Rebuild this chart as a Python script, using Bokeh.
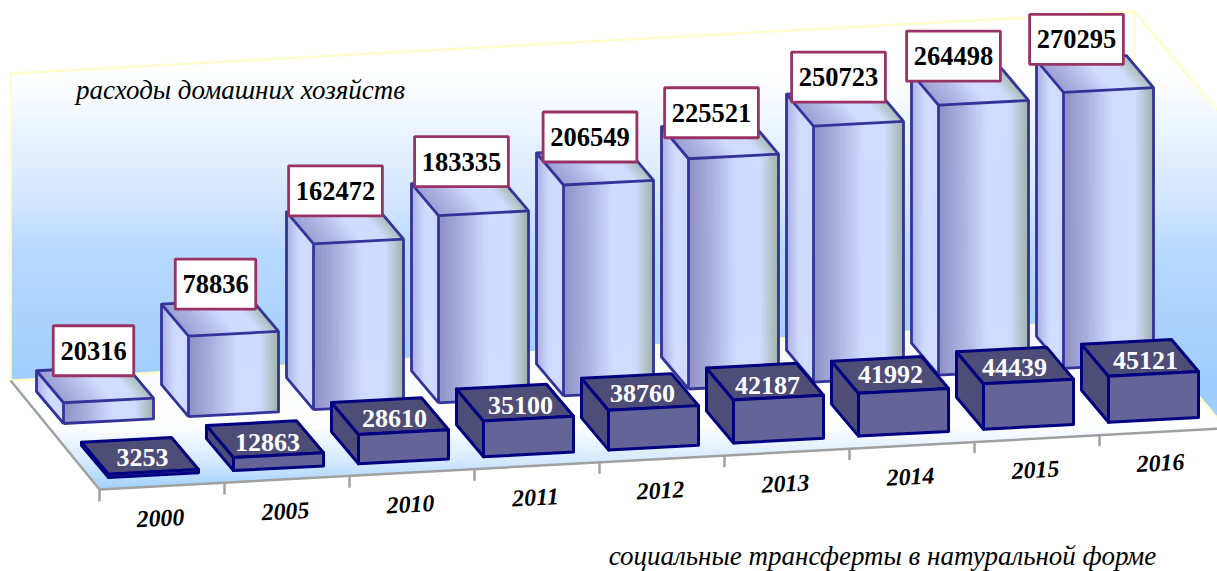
from bokeh.plotting import figure
from bokeh.models import Range1d
from bokeh.core.properties import value
from bokeh.embed import file_html
from bokeh.resources import INLINE

# ---- data ----
categories = ["2000", "2005", "2010", "2011", "2012", "2013", "2014", "2015", "2016"]
household = [20316, 78836, 162472, 183335, 206549, 225521, 250723, 264498, 270295]
transfers = [3253, 12863, 28610, 35100, 38760, 42187, 41992, 44439, 45121]
household_name = "расходы домашних хозяйств"
transfers_name = "социальные трансферты в натуральной форме"

# ---- label nudges relative to each bar's front-left top corner ----
hh_off = [(30, -52), (27, -52), (22, -53), (23, -54), (26.5, -48), (23, -46), (25, -49), (15, -49), (13, -53)]
tr_off = [(34, -17), (34, -15), (36, -16), (37, -15), (34, -17), (34, -14.5), (32, -19), (31, -16), (37, -16)]

# ---- oblique projection ----
STEP = (125.0, -6.9)
WIDE = (90.0, -4.7)
DEEP = (27.0, 32.0)
PX_PER_UNIT = 1.021 / 1000
ORIGIN_BACK = (63.0, 423.0)
ORIGIN_FRONT = (108.0, 477.0)

p = figure(width=1217, height=571, x_range=Range1d(0, 1217), y_range=Range1d(571, 0),
           toolbar_location=None, output_backend="svg", min_border=0,
           background_fill_color="white", border_fill_color="white")
p.axis.visible = False
p.grid.visible = False
p.outline_line_color = None


def hx(c):
    c = c.lstrip("#")
    return tuple(int(c[i:i + 2], 16) for i in (0, 2, 4))


def ramp(stops, t):
    if t <= stops[0][0]:
        return stops[0][1]
    for (a, ca), (b, cb) in zip(stops, stops[1:]):
        if t <= b:
            f = (t - a) / (b - a)
            x, y = hx(ca), hx(cb)
            return "#%02x%02x%02x" % tuple(round(x[k] + (y[k] - x[k]) * f) for k in range(3))
    return stops[-1][1]


def clip_band(poly, y0, y1):
    def cut(pts, keep, yc):
        out = []
        for a, b in zip(pts, pts[1:] + pts[:1]):
            ia, ib = keep(a[1]), keep(b[1])
            if ia:
                out.append(a)
            if ia != ib:
                f = (yc - a[1]) / (b[1] - a[1])
                out.append((a[0] + (b[0] - a[0]) * f, yc))
        return out
    pts = cut(poly, lambda y: y >= y0, y0)
    if pts:
        pts = cut(pts, lambda y: y <= y1, y1)
    return pts


def vertical_fill(poly, stops, step=3):
    xs, ys, cols = [], [], []
    ymin, ymax = min(q[1] for q in poly), max(q[1] for q in poly)
    y = ymin
    while y < ymax:
        band = clip_band(poly, y, min(y + step, ymax))
        if len(band) >= 3:
            xs.append([q[0] for q in band])
            ys.append([q[1] for q in band])
            cols.append(ramp(stops, y + step / 2))
        y += step
    p.patches(xs, ys, fill_color=cols, line_color=cols, line_width=0.8)


# ---- chart walls and floor ----
WALL = [(73, "#ffffff"), (150, "#e4f0ff"), (200, "#d3e6ff"), (250, "#b8d9ff"), (380, "#a0cdff")]
FLOOR = [(345, "#f6faff"), (425, "#ffffff"), (460, "#d5e9ff"), (490, "#9fd0ff")]

back_l_top, back_r_top = (10, 73), (1134, 11)
back_l_bot, back_r_bot = (10, 380), (1134, 319)
right_top, right_bot = (1217, 110), (1217, 418)
floor_fr, floor_fl = (1223, 428), (99, 489)

vertical_fill([back_l_top, back_r_top, back_r_bot, back_l_bot], WALL)
vertical_fill([back_r_top, right_top, right_bot, back_r_bot], WALL)
vertical_fill([back_l_bot, back_r_bot, floor_fr, floor_fl], FLOOR)

p.multi_line([[back_l_bot[0], back_l_top[0], back_r_top[0], right_top[0]], [back_r_top[0], back_r_bot[0]],
              [back_l_bot[0], back_r_bot[0], right_bot[0]]],
             [[back_l_bot[1], back_l_top[1], back_r_top[1], right_top[1]], [back_r_top[1], back_r_bot[1]],
              [back_l_bot[1], back_r_bot[1], right_bot[1]]],
             line_color="#ffffcc", line_width=2.5)

# axis line, side edge and ticks
GRAY = "#a0a0a0"
tick_xs = [floor_fl[0] + STEP[0] * k for k in range(len(categories))]
tick_ys = [floor_fl[1] + STEP[1] * k for k in range(len(categories))]
p.segment(tick_xs, tick_ys, tick_xs, [y + 12 for y in tick_ys], line_color=GRAY, line_width=2.5)
p.line([back_l_bot[0], floor_fl[0], floor_fr[0]], [back_l_bot[1], floor_fl[1], floor_fr[1]],
       line_color=GRAY, line_width=2.5)

# ---- gradient bars ----
FACE = [(0, "#8d90c4"), (0.25, "#a8aedd"), (0.55, "#d0dcff"), (0.8, "#d0dcff"), (1, "#9fb3a8")]
SIDE = [(0, "#a9aee0"), (0.5, "#d0dcff"), (1, "#d0dcff")]
TOP = [(0, "#9a9ed2"), (0.25, "#b0b6e4"), (0.55, "#d0dcff"), (0.8, "#d0dcff"), (1, "#a8bcb4")]
N = 40


def corners(origin, k, val):
    fx = origin[0] + STEP[0] * k
    fy = origin[1] + STEP[1] * k
    h = val * PX_PER_UNIT
    return fx, fy, h


def lerp_strips(a0, b0, a1, b1, stops, out):
    """Strips between edge a0-b0 and edge a1-b1."""
    for j in range(N):
        t0, t1 = j / N, (j + 1) / N
        q = [(a0[m] + (a1[m] - a0[m]) * t0, b0[m] + (b1[m] - b0[m]) * t0,
              b0[m] + (b1[m] - b0[m]) * t1, a0[m] + (a1[m] - a0[m]) * t1) for m in (0, 1)]
        out[0].append(list(q[0]))
        out[1].append(list(q[1]))
        out[2].append(ramp(stops, (t0 + t1) / 2))


strips = ([], [], [])
edge_x, edge_y = [], []
for k, v in enumerate(household):
    fx, fy, h = corners(ORIGIN_BACK, k, v)
    fl_b = (fx, fy)
    fr_b = (fx + WIDE[0], fy + WIDE[1])
    fl_t = (fx, fy - h)
    fr_t = (fx + WIDE[0], fy + WIDE[1] - h)
    bl_b = (fx - DEEP[0], fy - DEEP[1])
    bl_t = (fx - DEEP[0], fy - DEEP[1] - h)
    br_t = (fr_t[0] - DEEP[0], fr_t[1] - DEEP[1])
    lerp_strips(bl_b, bl_t, fl_b, fl_t, SIDE, strips)
    lerp_strips(bl_t, fl_t, br_t, fr_t, TOP, strips)
    lerp_strips(fl_b, fl_t, fr_b, fr_t, FACE, strips)
    for path in ([fl_b, fr_b, fr_t, br_t, bl_t, bl_b, fl_b], [fl_b, fl_t, fr_t], [fl_t, bl_t]):
        edge_x.append([q[0] for q in path])
        edge_y.append([q[1] for q in path])
p.patches(strips[0], strips[1], fill_color=strips[2], line_color=strips[2], line_width=0.8)
p.multi_line(edge_x, edge_y, line_color="#333399", line_width=2.8, line_join="round")

# ---- flat bars ----
fxs, fys, fcs = [], [], []
for k, v in enumerate(transfers):
    fx, fy, h = corners(ORIGIN_FRONT, k, v)
    fl_b = (fx, fy)
    fr_b = (fx + WIDE[0], fy + WIDE[1])
    fl_t = (fx, fy - h)
    fr_t = (fx + WIDE[0], fy + WIDE[1] - h)
    bl_b = (fx - DEEP[0], fy - DEEP[1])
    bl_t = (fx - DEEP[0], fy - DEEP[1] - h)
    br_t = (fr_t[0] - DEEP[0], fr_t[1] - DEEP[1])
    for poly, col in (([bl_b, bl_t, fl_t, fl_b], "#4d4d78"),
                      ([bl_t, br_t, fr_t, fl_t], "#4d4d78"),
                      ([fl_b, fl_t, fr_t, fr_b], "#646498")):
        fxs.append([q[0] for q in poly])
        fys.append([q[1] for q in poly])
        fcs.append(col)
p.patches(fxs, fys, fill_color=fcs, line_color="#000080", line_width=3, line_join="round")

# ---- value labels ----
SERIF = value("Liberation Serif")
hx_c, hy_c, hw = [], [], []
for k, v in enumerate(household):
    fx, fy, h = corners(ORIGIN_BACK, k, v)
    hx_c.append(fx + hh_off[k][0])
    hy_c.append(fy - h + hh_off[k][1])
    hw.append(len(str(v)) * 13.3 + 14)
p.rect(hx_c, hy_c, width=hw, height=50, fill_color="white", line_color="#993366", line_width=2.8)
p.text(hx_c, hy_c, text=[str(v) for v in household], text_font=SERIF, text_font_style="bold",
       text_font_size="26.5px", text_align="center", text_baseline="middle", text_color="black")

tx_c, ty_c = [], []
for k, v in enumerate(transfers):
    fx, fy, h = corners(ORIGIN_FRONT, k, v)
    tx_c.append(fx + tr_off[k][0])
    ty_c.append(fy - h + tr_off[k][1])
p.text(tx_c, ty_c, text=[str(v) for v in transfers], text_font=SERIF, text_font_style="bold",
       text_font_size="26px", text_align="center", text_baseline="middle", text_color="white")

# ---- category labels ----
p.text([160 + STEP[0] * k for k in range(len(categories))],
       [518 + STEP[1] * k for k in range(len(categories))],
       text=categories, angle=0.05, text_font=SERIF, text_font_style="bold italic",
       text_font_size="24px", text_align="center", text_baseline="middle", text_color="black")

# ---- series names ----
p.text([240], [89], text=[household_name], text_font=SERIF, text_font_style="italic",
       text_font_size="27px", text_align="center", text_baseline="middle", text_color="black")
p.text([882], [555.5], text=[transfers_name], text_font=SERIF, text_font_style="italic",
       text_font_size="27px", text_align="center", text_baseline="middle", text_color="black")

open("out.html", "w").write(file_html(p, INLINE))
